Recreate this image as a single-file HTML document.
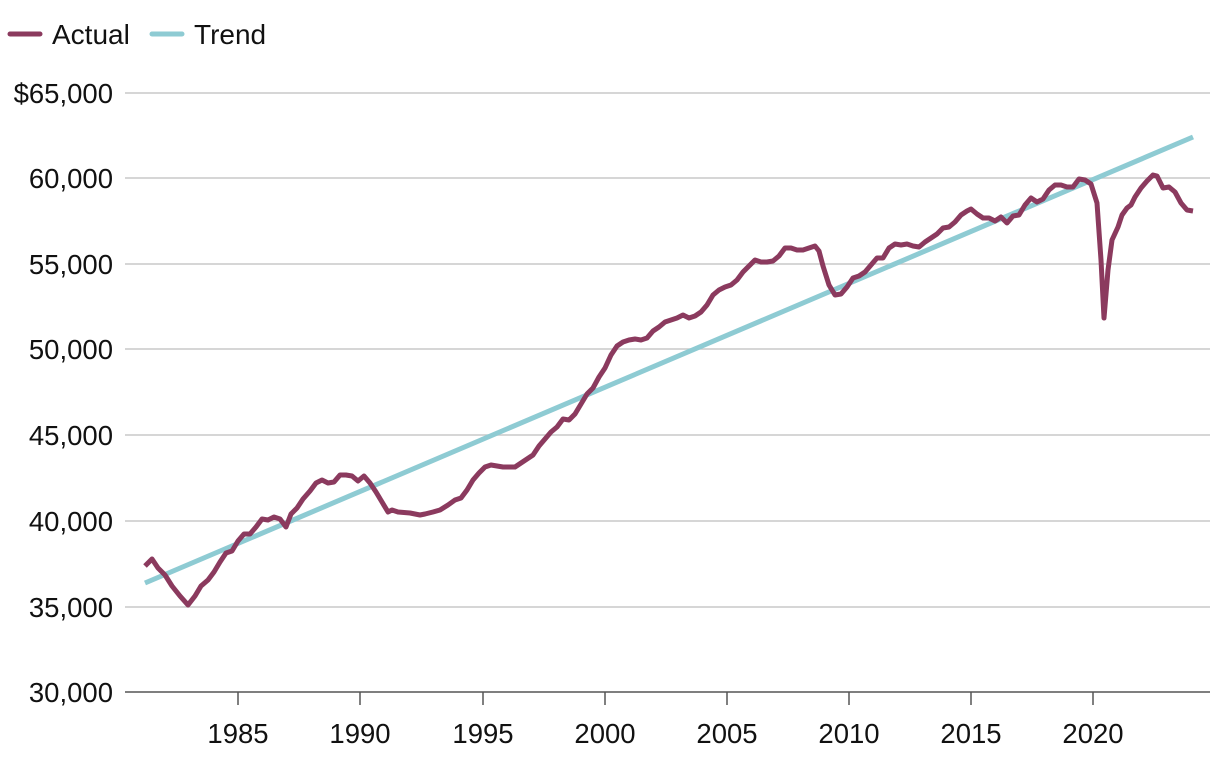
<!DOCTYPE html>
<html><head><meta charset="utf-8"><style>
html,body{margin:0;padding:0;background:#fff;}
svg{display:block;font-family:"Liberation Sans",sans-serif;}
</style></head><body>
<svg width="1220" height="758" viewBox="0 0 1220 758">
<g stroke="#c8c8c8" stroke-width="1.5">
<line x1="125" x2="1210" y1="93" y2="93"/>
<line x1="125" x2="1210" y1="178" y2="178"/>
<line x1="125" x2="1210" y1="264" y2="264"/>
<line x1="125" x2="1210" y1="349" y2="349"/>
<line x1="125" x2="1210" y1="435" y2="435"/>
<line x1="125" x2="1210" y1="521" y2="521"/>
<line x1="125" x2="1210" y1="607" y2="607"/>
</g>
<line x1="125" x2="1210" y1="692" y2="692" stroke="#555" stroke-width="1.5"/>
<g stroke="#555" stroke-width="1.5">
<line x1="238" x2="238" y1="692" y2="705"/><line x1="360" x2="360" y1="692" y2="705"/>
<line x1="483" x2="483" y1="692" y2="705"/><line x1="605" x2="605" y1="692" y2="705"/>
<line x1="727" x2="727" y1="692" y2="705"/><line x1="849" x2="849" y1="692" y2="705"/>
<line x1="971" x2="971" y1="692" y2="705"/><line x1="1093" x2="1093" y1="692" y2="705"/>
</g>
<g font-size="27.5" fill="#111" text-anchor="end">
<text x="113" y="103">$65,000</text><text x="113" y="188">60,000</text>
<text x="113" y="274">55,000</text><text x="113" y="359">50,000</text>
<text x="113" y="445">45,000</text><text x="113" y="531">40,000</text>
<text x="113" y="617">35,000</text><text x="113" y="702">30,000</text>
</g>
<g font-size="27.5" fill="#111" text-anchor="middle">
<text x="238" y="743">1985</text><text x="360" y="743">1990</text><text x="483" y="743">1995</text>
<text x="605" y="743">2000</text><text x="727" y="743">2005</text><text x="849" y="743">2010</text>
<text x="971" y="743">2015</text><text x="1093" y="743">2020</text>
</g>
<line x1="145" y1="583" x2="1193" y2="137" stroke="#8ecbd3" stroke-width="5"/>
<polyline fill="none" stroke="#8b3a5e" stroke-width="5" stroke-linejoin="round" points="145,566 152,559 158,568 165,575 172,586 180,596 188,605 195,596 201,586 208,580 214,572 220,562 226,553 232,551 238,541 244,534 250,534 256,527 262,519 268,520 274,517 280,519 286,527 291,514 297,508 303,499 310,491 316,483 322,480 328,483 334,482 340,475 346,475 352,476 358,481 364,476 370,483 376,492 382,502 388,512 392,510 398,512 410,513 420,515 425,514 433,512 440,510 448,505 455,500 461,498 467,490 473,480 479,473 485,467 491,465 497,466 503,467 509,467 515,467 521,463 527,459 533,455 539,446 545,439 551,432 557,427 563,419 569,420 575,414 581,404 587,394 593,388 599,377 605,368 611,355 617,346 623,342 629,340 635,339 641,340 647,338 653,331 659,327 665,322 671,320 677,318 683,315 689,318 695,316 701,312 707,305 713,295 719,290 725,287 731,285 737,280 743,272 749,266 755,260 761,262 767,262 773,261 779,256 785,248 791,248 797,250 803,250 809,248 815,246 819,251 823,266 829,285 835,295 841,294 847,287 853,278 859,276 865,272 871,265 877,258 883,258 889,248 895,244 901,245 907,244 913,246 919,247 925,242 931,238 937,234 943,228 949,227 955,222 961,215 967,211 971,209 977,214 983,218 989,218 995,221 1001,217 1007,223 1013,216 1019,215 1025,205 1031,198 1037,202 1043,199 1049,190 1055,185 1061,185 1067,187 1073,187 1079,179 1085,180 1091,184 1097,203 1101,260 1104,318 1108,270 1112,240 1118,227 1122,215 1127,208 1131,205 1135,197 1141,188 1147,181 1153,175 1157,176 1163,188 1169,187 1175,192 1181,203 1187,210 1193,211"/>
<line x1="10" x2="40" y1="34" y2="34" stroke="#8b3a5e" stroke-width="5" stroke-linecap="round"/>
<text x="52" y="44" font-size="28" fill="#111">Actual</text>
<line x1="152" x2="182" y1="34" y2="34" stroke="#8ecbd3" stroke-width="5" stroke-linecap="round"/>
<text x="194" y="44" font-size="28" fill="#111">Trend</text>
</svg>
</body></html>
